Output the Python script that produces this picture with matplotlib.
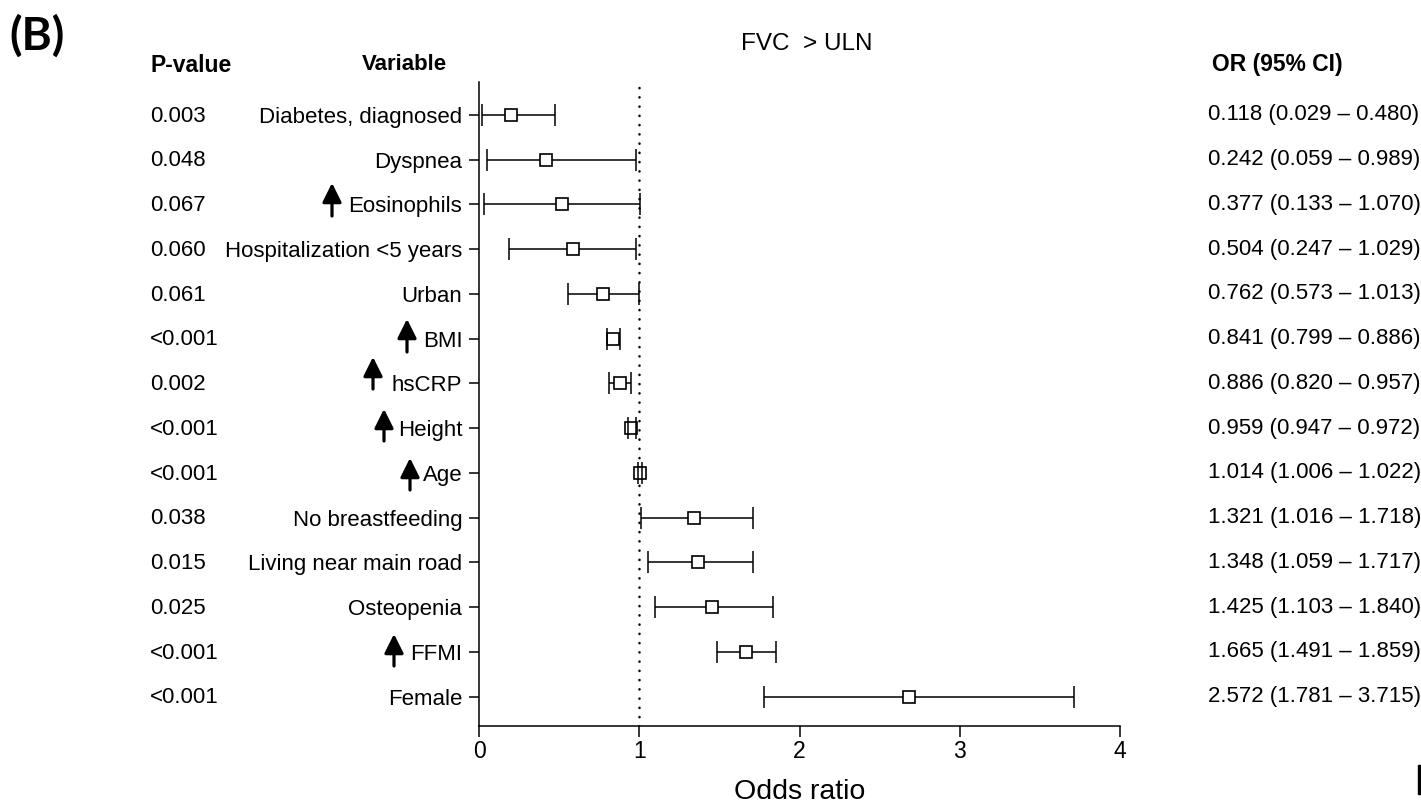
import matplotlib
matplotlib.use("Agg")
import matplotlib.pyplot as plt
from matplotlib.transforms import blended_transform_factory
from matplotlib.patches import Rectangle, FancyArrowPatch

plt.rcParams['font.family'] = ['Liberation Sans', 'DejaVu Sans']

# ---------------- data ----------------
variables = ["Diabetes, diagnosed", "Dyspnea", "Eosinophils", "Hospitalization <5 years",
             "Urban", "BMI", "hsCRP", "Height", "Age", "No breastfeeding",
             "Living near main road", "Osteopenia", "FFMI", "Female"]
p_values = ["0.003", "0.048", "0.067", "0.060", "0.061", "<0.001", "0.002", "<0.001",
            "<0.001", "0.038", "0.015", "0.025", "<0.001", "<0.001"]
or_text = ["0.118 (0.029 – 0.480)", "0.242 (0.059 – 0.989)", "0.377 (0.133 – 1.070)",
           "0.504 (0.247 – 1.029)", "0.762 (0.573 – 1.013)", "0.841 (0.799 – 0.886)",
           "0.886 (0.820 – 0.957)", "0.959 (0.947 – 0.972)", "1.014 (1.006 – 1.022)",
           "1.321 (1.016 – 1.718)", "1.348 (1.059 – 1.717)", "1.425 (1.103 – 1.840)",
           "1.665 (1.491 – 1.859)", "2.572 (1.781 – 3.715)"]
# plotted positions
or_point = [0.20, 0.42, 0.52, 0.587, 0.776, 0.834, 0.88, 0.95, 1.007, 1.344, 1.369, 1.452, 1.669, 2.686]
ci_low = [0.019, 0.05, 0.029, 0.187, 0.556, 0.797, 0.813, 0.928, 0.99, 1.009, 1.053, 1.097, 1.486, 1.777]
ci_high = [0.474, 0.98, 1.005, 0.98, 1.0, 0.88, 0.951, 0.978, 1.015, 1.712, 1.712, 1.835, 1.854, 3.716]
x_ticks = [0, 1, 2, 3, 4]
arrow_vars = ["Eosinophils", "BMI", "hsCRP", "Height", "Age", "FFMI"]

# ---------------- layout ----------------
W, H = 1421, 807
fig = plt.figure(figsize=(W / 100, H / 100), dpi=100)
ax = fig.add_axes([479 / W, 1 - 726 / H, (1120 - 479) / W, (726 - 82) / H])

n = len(variables)
ys = list(range(n))
lo_err = [p - l for p, l in zip(or_point, ci_low)]
hi_err = [h - p for p, h in zip(or_point, ci_high)]

eb = ax.errorbar(or_point, ys, xerr=[lo_err, hi_err], fmt='none', ecolor='black',
                 elinewidth=1.1, capsize=8, capthick=1.1, zorder=2)
for cl in eb[1]:
    cl.set_zorder(4)
ax.plot(or_point, ys, linestyle='none', marker='s', markersize=9,
        markerfacecolor='white', markeredgecolor='black', markeredgewidth=1.2, zorder=3)

ax.axvline(1, color='black', lw=1.8, linestyle=(0, (0.1, 3.6)),
           dash_capstyle='round', zorder=1)

ax.set_xlim(0, 4)
ax.set_ylim(13.655, -0.737)
ax.set_xticks(x_ticks)
ax.set_xticklabels([str(t) for t in x_ticks], fontsize=16.5)
ax.set_yticks(ys)
ax.set_yticklabels(variables, fontsize=16)
ax.tick_params(axis='y', length=7, width=1.1, pad=5)
ax.tick_params(axis='x', length=8, width=1.1, pad=2)
for s in ['top', 'right']:
    ax.spines[s].set_visible(False)
for s in ['left', 'bottom']:
    ax.spines[s].set_linewidth(1.1)

# columns
tr = blended_transform_factory(fig.transFigure, ax.transData)
for i in range(n):
    ax.text(150 / W, i - 0.03, p_values[i], transform=tr, fontsize=16,
            ha='left', va='center_baseline')
    ax.text(1208 / W, i - 0.06, or_text[i], transform=tr, fontsize=16,
            ha='left', va='center_baseline')

fig.text(150 / W, 1 - 65 / H, "P-value", fontsize=16.5, fontweight='bold', ha='left', va='center')
fig.text(404 / W, 1 - 65 / H, "Variable", fontsize=16, fontweight='bold', ha='center', va='center')
fig.text(1212 / W, 1 - 65 / H, "OR (95% CI)", fontsize=16.5, fontweight='bold', ha='left', va='center')
fig.text(807 / W, 1 - 44 / H, "FVC  > ULN", fontsize=17.5, ha='center', va='center')
fig.text(799.5 / W, 1 - 792 / H, "Odds ratio", fontsize=20.5, ha='center', va='center')
fig.text(9 / W, 1 - 36 / H, "(B)", fontsize=33, fontweight='bold', ha='left', va='center',
         family=['Lato', 'DejaVu Sans'])

# up arrows (figure pixels: x, top, bottom)
arrow_px = [(332, 183, 216), (407, 319, 352), (373, 357, 389),
            (384, 409, 441), (410, 458, 490), (394, 634, 666)]
for (x, yt, yb) in arrow_px:
    fig.add_artist(FancyArrowPatch(
        (x / W, 1 - yb / H), (x / W, 1 - yt / H), transform=fig.transFigure,
        arrowstyle='-|>,head_width=0.29,head_length=0.58', mutation_scale=20,
        color='black', lw=2.3, shrinkA=0, shrinkB=0))

fig.add_artist(Rectangle((1418 / W, 1 - 794 / H), 3 / W, 29 / H,
                         transform=fig.transFigure, color='black'))

fig.savefig("out.png", dpi=100)
